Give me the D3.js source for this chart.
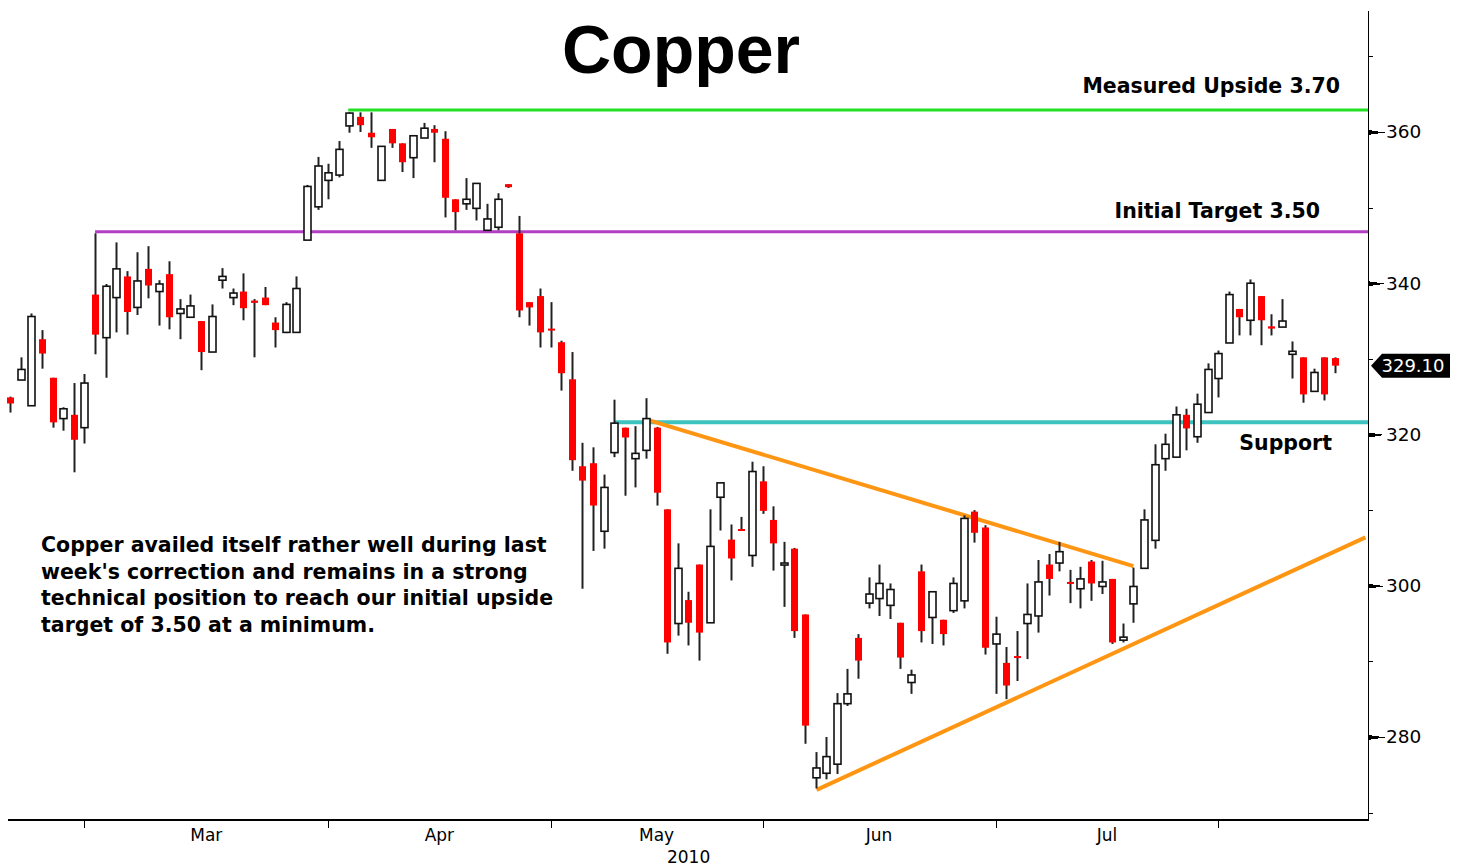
<!DOCTYPE html>
<meta charset="utf-8">
<style>
    body { margin: 0; background: #fff; }
    svg { display: block; }
    .axis text {
        font: 18.5px "DejaVu Sans", sans-serif;
        fill: #000;
    }
    .axis path,
    .axis line {
        fill: none;
        stroke: #000;
        shape-rendering: crispEdges;
    }
    .month {
        font: 17px "DejaVu Sans", sans-serif;
        fill: #000;
    }
    .note {
        font: bold 20.5px "DejaVu Sans", Verdana, sans-serif;
        fill: #000;
    }
</style>

<svg id="chart" width="1465" height="867"></svg>

<script src="https://cdnjs.cloudflare.com/ajax/libs/d3/7.8.5/d3.min.js"></script>
<script>

// Daily copper candles (cents/lb), first session Feb 18 2010
var openP = [324.9,327.2,323.8,332.6,327.5,322.1,322.6,320.9,338.5,332.8,338.1,340.9,336.8,341.9,338.9,341.2,336.0,335.5,335.0,330.9,
    340.4,338.1,338.9,337.7,338.1,334.8,333.5,333.5,345.7,350.1,353.6,354.3,360.8,362.0,359.9,353.6,360.4,358.5,356.6,359.2,
    360.4,359.1,351.1,350.5,349.9,347.0,347.4,353.1,346.6,337.5,338.3,334.0,332.2,327.3,315.8,316.2,307.2,317.6,320.9,316.8,
    317.9,320.9,310.1,295.0,298.1,302.8,295.1,311.7,306.1,307.5,304.0,313.8,308.7,303.0,304.9,296.2,274.6,275.2,276.4,284.4,
    293.1,297.7,298.3,297.4,295.1,287.2,301.9,295.8,295.5,296.7,298.0,309.8,307.7,292.3,289.8,290.7,295.0,296.0,302.8,303.0,
    300.5,299.6,303.2,299.9,300.9,292.8,297.6,302.3,306.0,316.8,317.0,322.6,319.7,322.9,327.4,332.1,336.6,335.1,338.3,334.3,
    334.2,330.6,330.2,325.7,330.2,330.1];
var highP = [325.0,330.2,336.0,333.8,327.5,323.6,326.8,328.0,346.6,339.9,345.4,341.6,344.1,344.9,340.4,342.9,337.9,338.5,335.0,337.2,
    342.0,339.3,341.3,337.9,339.5,335.5,337.5,340.9,353.0,356.7,355.8,358.8,362.6,362.6,362.6,358.1,360.4,358.5,359.5,361.2,
    360.9,360.1,351.1,353.9,353.2,350.5,351.9,353.1,348.9,337.5,339.3,337.5,332.4,330.9,318.9,318.3,314.7,324.6,320.9,321.1,
    324.8,321.0,310.1,305.6,299.2,302.8,310.1,313.6,308.1,309.1,316.4,315.8,310.5,305.8,305.0,296.2,278.0,280.0,285.8,289.0,
    293.6,301.1,302.8,300.3,295.1,288.9,302.8,299.2,295.5,301.1,309.3,310.0,308.0,295.9,291.9,294.0,300.3,303.4,304.2,305.8,
    302.1,302.5,303.4,303.3,300.9,295.0,302.4,310.1,318.7,320.1,323.7,323.4,325.4,329.4,331.1,338.9,336.6,340.5,338.3,335.9,
    337.9,332.3,330.2,328.7,330.2,330.2];
var lowP = [322.9,327.2,323.8,328.7,320.9,320.5,315.0,318.8,330.6,327.5,333.5,333.2,335.8,338.0,334.4,333.9,332.6,335.5,328.5,330.9,
    339.3,337.1,335.1,330.2,337.1,331.5,333.4,333.5,345.7,349.7,351.1,354.0,359.9,360.0,357.9,353.6,357.9,354.7,353.9,359.2,
    356.0,348.7,347.0,349.7,348.3,347.0,347.0,352.6,335.5,334.4,331.5,331.5,325.8,315.2,299.6,304.6,304.9,317.0,311.9,313.0,
    316.8,310.6,291.0,293.4,292.1,290.1,295.1,307.3,300.7,307.3,302.5,309.5,302.0,297.2,293.1,279.1,273.2,274.4,275.1,284.1,
    287.7,297.0,296.0,295.6,289.0,285.7,292.5,292.3,292.1,296.4,297.0,305.7,290.9,285.7,285.0,287.4,290.3,293.8,298.7,301.9,
    297.7,297.0,298.0,298.9,292.3,292.5,295.1,302.3,304.9,315.2,317.0,317.9,318.9,322.9,324.9,332.1,333.1,333.1,331.8,333.1,
    334.2,327.4,324.2,325.7,324.5,328.1];
var closeP = [324.1,328.6,335.6,330.7,321.6,323.4,319.3,326.8,333.2,339.6,341.9,336.2,340.3,339.7,339.9,335.5,336.6,337.0,330.9,335.6,
    340.9,338.7,336.7,337.4,337.1,333.8,337.2,339.3,352.8,355.5,354.6,357.7,362.5,360.9,359.3,358.1,358.5,356.0,359.5,360.5,
    359.9,351.3,349.4,351.1,353.2,348.5,351.1,352.7,336.4,336.8,333.5,333.8,328.1,316.6,313.9,310.6,313.0,321.5,319.6,317.5,
    322.1,312.3,292.5,302.3,295.1,293.8,305.2,313.6,303.6,307.3,315.1,309.9,305.6,303.0,294.0,281.5,275.9,277.4,284.4,285.7,
    290.1,298.9,300.3,299.5,290.5,288.2,294.0,299.2,293.6,300.3,308.9,307.0,291.8,293.6,286.8,290.5,296.2,300.5,300.9,304.5,
    300.3,300.9,300.3,300.5,292.5,293.2,299.9,308.7,316.0,318.7,322.6,320.8,324.0,328.6,330.7,338.5,335.5,340.0,335.1,334.0,
    335.0,331.0,325.3,328.2,325.3,329.1];

var holidays = ["2010-04-02", "2010-05-31", "2010-07-05"];
var monthLabels = ["Mar", "Apr", "May", "Jun", "Jul"];
var yearLabel = "2010";
var yTicks = [280, 300, 320, 340, 360];
var yMinorTicks = [270, 290, 310, 330, 350, 370];

// horizontal levels: value and the session index where they start
var levelValues = [362.9, 346.8, 321.6];
var levelStarts = [31.9, 8.0, 57.0];
var levelTexts = ["Measured Upside 3.70", "Initial Target 3.50", "Support"];

// trend lines as [session index, price] pairs
var resistanceLine = [[60.0, 322.0], [106.0, 302.6]];
var supportLine = [[76.1, 273.0], [127.9, 306.4]];

var noteLines = ["Copper availed itself rather well during last",
    "week's correction and remains in a strong",
    "technical position to reach our initial upside",
    "target of 3.50 at a minimum."];

// trading sessions: weekdays minus exchange holidays
var dates = [];
var fmt = d3.timeFormat("%Y-%m-%d");
for (var d = new Date(2010, 1, 18); dates.length < closeP.length; d.setDate(d.getDate() + 1)) {
    if (d.getDay() === 0 || d.getDay() === 6 || holidays.indexOf(fmt(d)) >= 0) continue;
    dates.push(new Date(d));
}
var candles = dates.map(function(dt, i) {
    return {date: dt, i: i, o: openP[i], h: highP[i], l: lowP[i], c: closeP[i]};
});

// first session of each month -> tick positions
var monthStarts = [];
candles.forEach(function(c, i) {
    if (i > 0 && c.date.getMonth() !== dates[i - 1].getMonth()) monthStarts.push(i);
});

var svg = d3.select("#chart");
var plotLeft = 8, plotRight = 1368, plotTop = 10, plotBottom = 820;

var x = d3.scaleLinear().domain([0, candles.length - 1]).range([10.3, 1334.7]);
var y = d3.scaleLinear().domain([269.02, 376.13]).range([plotBottom, plotTop]);
var bodyW = 7;

// ---- horizontal levels
var levelColors = ["#22e022", "#b23fc3", "#3cc3c0"];
var levelWidths = [3, 3, 4];
svg.selectAll(".level")
    .data(levelValues)
    .enter()
    .append("line")
    .attr("class", "level")
    .attr("x1", (v, k) => x(levelStarts[k]))
    .attr("x2", plotRight)
    .attr("y1", v => y(v))
    .attr("y2", v => y(v))
    .style("stroke", (v, k) => levelColors[k])
    .style("stroke-width", (v, k) => levelWidths[k]);

// ---- trend lines
var line = d3.line().x(p => x(p[0])).y(p => y(p[1]));
svg.selectAll(".trend")
    .data([resistanceLine, supportLine])
    .enter()
    .append("path")
    .attr("class", "trend")
    .attr("d", line)
    .style("fill", "none")
    .style("stroke", "#ff9613")
    .style("stroke-width", 4);

// ---- candles
var g = svg.append("g").attr("class", "candles");
g.selectAll(".wick")
    .data(candles)
    .enter()
    .append("line")
    .attr("x1", c => Math.round(x(c.i)) + 0.5)
    .attr("x2", c => Math.round(x(c.i)) + 0.5)
    .attr("y1", c => y(c.h))
    .attr("y2", c => y(c.l))
    .style("stroke", "#222")
    .style("stroke-width", 2);

g.selectAll(".body")
    .data(candles)
    .enter()
    .append("rect")
    .attr("x", c => Math.round(x(c.i)) + 0.5 - bodyW / 2)
    .attr("width", bodyW)
    .attr("y", c => y(Math.max(c.o, c.c)))
    .attr("height", c => Math.max(2, Math.abs(y(c.o) - y(c.c))))
    .style("fill", c => c.c < c.o ? "#ff0000" : "#fff")
    .style("stroke", c => c.c < c.o ? "none" : "#111")
    .style("stroke-width", 1.6);

// ---- right price axis (wedge shaped major ticks)
var yAxis = svg.append("g")
    .attr("class", "axis")
    .attr("transform", "translate(" + plotRight + ",0)")
    .call(d3.axisRight(y).tickValues(yTicks).tickSize(0).tickSizeOuter(0).tickPadding(18));
yAxis.selectAll("path").style("stroke-width", 1.5);
yAxis.selectAll(".tick")
    .append("path")
    .attr("d", "M0,-2.5L17,0L0,2.5Z")
    .style("fill", "#000")
    .style("stroke", "none");

svg.append("g")
    .attr("class", "axis")
    .attr("transform", "translate(" + plotRight + ",0)")
    .call(d3.axisRight(y).tickValues(yMinorTicks).tickSize(5).tickFormat(""))
    .select(".domain").remove();

// ---- bottom time axis
var xAxis = svg.append("g")
    .attr("class", "axis")
    .attr("transform", "translate(0," + plotBottom + ")")
    .call(d3.axisBottom(x).tickValues(monthStarts).tickSize(8).tickFormat(""));
xAxis.select(".domain").remove();
svg.append("line")
    .attr("x1", plotLeft).attr("x2", plotRight)
    .attr("y1", plotBottom).attr("y2", plotBottom)
    .style("stroke", "#000").style("stroke-width", 2);

// month names sit between month boundaries
svg.selectAll(".month")
    .data(monthLabels)
    .enter()
    .append("text")
    .attr("class", "month")
    .attr("x", (m, k) => (x(monthStarts[k]) + x(monthStarts[k + 1])) / 2)
    .attr("y", 841)
    .attr("text-anchor", "middle")
    .text(m => m);
svg.append("text")
    .attr("class", "month")
    .attr("x", (x(monthStarts[2]) + x(monthStarts[3])) / 2 + 32)
    .attr("y", 863)
    .attr("text-anchor", "middle")
    .text(yearLabel);

// ---- last price tag
var last = candles[candles.length - 1];
var ty = y(last.c);
svg.append("path")
    .attr("d", "M" + (plotRight + 3) + "," + ty + "L" + (plotRight + 14) + "," + (ty - 12) +
        "H1450V" + (ty + 12) + "H" + (plotRight + 14) + "Z")
    .style("fill", "#000");
svg.append("text")
    .attr("x", 1413)
    .attr("y", ty + 6.5)
    .attr("text-anchor", "middle")
    .style("font", "18px 'DejaVu Sans', sans-serif")
    .style("fill", "#fff")
    .text(d3.format(".2f")(last.c));

// ---- title and annotations
svg.append("text")
    .attr("x", 681)
    .attr("y", 73)
    .attr("text-anchor", "middle")
    .style("font", "bold 68px 'Liberation Sans', Arial, sans-serif")
    .text("Copper");

var labelRight = [1340, 1320, 1332];
var labelBase = [93, 218, 450];
svg.selectAll(".lvl-label")
    .data(levelTexts)
    .enter()
    .append("text")
    .attr("class", "note")
    .attr("x", (t, k) => labelRight[k])
    .attr("y", (t, k) => labelBase[k])
    .attr("text-anchor", "end")
    .text(t => t);

svg.selectAll(".note-line")
    .data(noteLines)
    .enter()
    .append("text")
    .attr("class", "note")
    .attr("x", 41)
    .attr("y", (t, k) => 552 + k * 26.5)
    .text(t => t);

</script>
